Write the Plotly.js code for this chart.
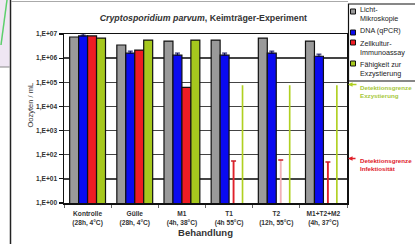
<!DOCTYPE html>
<html><head><meta charset="utf-8">
<script src="https://cdn.plot.ly/plotly-3.0.1.min.js"></script>
<style>html,body{margin:0;padding:0;background:#fff;}#chart{width:415px;height:244px;}</style>
</head><body><div id="chart"></div>
<script>
// ---- data ----
const categories = ['Kontrolle', 'Gülle', 'M1', 'T1', 'T2', 'M1+T2+M2'];
const conditions = ['(28h, 4°C)', '(28h, 4°C)', '(4h, 38°C)', '(4h 55°C)', '(12h, 55°C)', '(4h, 37°C)'];
const lichtMikroskopie = [7.5e6, 3.5e6, 5.1e6, 5.6e6, 6.8e6, 5.1e6];
const dnaQpcr = [8.3e6, 1.6e6, 1.33e6, 1.33e6, 1.6e6, 1.2e6];
const zellkulturImmunoassay = [8.3e6, 2.15e6, 6.2e4, null, null, null];
const exzystierung = [6.8e6, 5.6e6, 5.6e6, null, null, null];
const detektionsgrenzeInfektiositaet = [null, null, null, 55, 60, 50];
const detektionsgrenzeExzystierung = [null, null, null, 7.5e4, 7.5e4, 7.5e4];
const seriesNames = ['Licht-<br>Mikroskopie', 'DNA (qPCR)', 'Zellkultur-<br>Immunoassay', 'Fähigkeit zur<br>Exzystierung'];
const yTickValues = [1, 10, 100, 1000, 1e4, 1e5, 1e6, 1e7];
const yTickLabels = ['1,E+00', '1,E+01', '1,E+02', '1,E+03', '1,E+04', '1,E+05', '1,E+06', '1,E+07'];
const titleText = '<b><i>Cryptosporidium parvum</i>, Keimträger-Experiment</b>';
const yTitle = 'Oozyten / mL';
const xTitle = '<b>Behandlung</b>';
const limitLabels = ['<b>Detektionsgrenze<br>Exzystierung</b>', '<b>Detektionsgrenze<br>Infektiosität</b>'];

// ---- styles ----
const colors = ['#9a9a9a', '#0a0af0', '#ee1c24', '#a6c81e'];
const W = 415, H = 244, L = 64, R = 68, T = 34, B = 41;
const pw = W - L - R, ph = H - T - B;
const px = v => (v - L) / pw;
const py = v => (H - B - v) / ph;
const FONT = 'Liberation Sans, Arial, sans-serif';

const slot = 0.19;
const barBase = {type: 'bar', x: categories, showlegend: false};
const traces = [
  Object.assign({}, barBase, {name: seriesNames[0], y: lichtMikroskopie, width: slot, offset: -2 * slot,
    marker: {color: colors[0], line: {color: '#111', width: 1.2}}}),
  Object.assign({}, barBase, {name: seriesNames[1], y: dnaQpcr, width: slot, offset: -slot,
    marker: {color: colors[1], line: {color: '#111', width: 1.2}},
    error_y: {type: 'percent', symmetric: false, value: 22, valueminus: 0, color: '#000050', thickness: 1, width: 2.5}}),
  Object.assign({}, barBase, {name: seriesNames[2], y: zellkulturImmunoassay, width: slot, offset: 0,
    marker: {color: colors[2], line: {color: '#111', width: 1.2}}}),
  Object.assign({}, barBase, {name: seriesNames[3], y: exzystierung, width: slot, offset: slot,
    marker: {color: colors[3], line: {color: '#111', width: 1.2}}}),
  {type: 'bar', x: categories, y: detektionsgrenzeInfektiositaet, width: 0.04, offset: slot / 2 - 0.02,
    showlegend: false,
    marker: {color: ['#e0202a', '#e0202a', '#e0202a', '#e0202a', '#f2b0b8', '#e0202a'], line: {width: 0}},
    error_y: {type: 'percent', symmetric: false, value: 0.5, valueminus: 0, color: '#c81e28', thickness: 1.5, width: 2.5}},
  {type: 'bar', x: categories, y: detektionsgrenzeExzystierung, width: 0.035, offset: 1.5 * slot - 0.0175,
    showlegend: false, marker: {color: '#b0d020', line: {width: 0}}}
];

const shapes = [
  // left strip remnants
  {type: 'rect', xref: 'paper', yref: 'paper', x0: px(0), x1: px(9.5), y0: py(67), y1: py(0), fillcolor: '#efe6f3', line: {width: 0}, layer: 'below'},
  {type: 'line', xref: 'paper', yref: 'paper', x0: px(7), x1: px(1), y0: py(0), y1: py(45), line: {color: '#5ccf6c', width: 1.5}},
  {type: 'line', xref: 'paper', yref: 'paper', x0: px(0), x1: px(9.5), y0: py(67), y1: py(67), line: {color: '#888', width: 1}},
  {type: 'line', xref: 'paper', yref: 'paper', x0: px(10.5), x1: px(10.5), y0: py(0), y1: py(244), line: {color: '#222', width: 1.5}},
  {type: 'line', xref: 'paper', yref: 'paper', x0: px(11), x1: px(348), y0: py(1.5), y1: py(1.5), line: {color: '#aaa', width: 1}},
  // legend box
  {type: 'rect', xref: 'paper', yref: 'paper', x0: px(348.5), x1: px(420), y0: py(81), y1: py(4), fillcolor: '#fff', line: {color: '#111', width: 1.2}}
];
const swatchY = [11.5, 32.5, 42.5, 63.5];
swatchY.forEach((yy, i) => shapes.push({type: 'rect', xref: 'paper', yref: 'paper',
  x0: px(350.5), x1: px(355.5), y0: py(yy + 2.5), y1: py(yy - 2.5), fillcolor: colors[i], line: {color: '#111', width: 1}}));

const textY = [14.5, 31, 48, 69];
const annotations = seriesNames.map((s, i) => ({xref: 'paper', yref: 'paper', x: px(357.5), y: py(textY[i]),
  xanchor: 'left', yanchor: 'middle', align: 'left', showarrow: false, text: s,
  font: {family: FONT, size: 7.2, color: '#222'}}));
annotations.push(
  {xref: 'paper', yref: 'paper', x: px(23), y: py(105), text: yTitle, textangle: -90, showarrow: false,
    font: {family: FONT, size: 7.5, color: '#333'}},
  {xref: 'paper', yref: 'paper', x: px(348), y: py(84.5), ax: 10, ay: 0, text: '', showarrow: true,
    arrowhead: 2, arrowsize: 0.7, arrowwidth: 1.3, arrowcolor: '#b0d020'},
  {xref: 'paper', yref: 'paper', x: px(357.5), y: py(91), xanchor: 'left', yanchor: 'middle', align: 'left',
    showarrow: false, text: limitLabels[0], font: {family: FONT, size: 6.2, color: '#a6c83a'}},
  {xref: 'paper', yref: 'paper', x: px(348), y: py(158.5), ax: 9, ay: 0, text: '', showarrow: true,
    arrowhead: 2, arrowsize: 0.7, arrowwidth: 1.3, arrowcolor: '#e0202a'},
  {xref: 'paper', yref: 'paper', x: px(357.5), y: py(164), xanchor: 'left', yanchor: 'middle', align: 'left',
    showarrow: false, text: limitLabels[1], font: {family: FONT, size: 6.2, color: '#e0202a'}}
);

const layout = {
  width: W, height: H, margin: {l: L, r: R, t: T, b: B},
  paper_bgcolor: '#fff', plot_bgcolor: '#fff',
  barmode: 'overlay', showlegend: false,
  font: {family: FONT, color: '#222'},
  title: {text: titleText, x: 0.49, xanchor: 'center', y: 1 - 18 / H, yref: 'container', yanchor: 'middle',
    font: {family: FONT, size: 8.8, color: '#333'}},
  xaxis: {type: 'category', tickvals: categories,
    ticktext: categories.map((c, i) => '<b>' + c + '<br>' + conditions[i] + '</b>'),
    tickson: 'boundaries', ticks: 'outside', ticklen: 3, tickcolor: '#666', tickwidth: 1,
    ticklabelstandoff: 4,
    showline: true, linecolor: '#111', linewidth: 1.5, mirror: true,
    tickfont: {family: FONT, size: 6.6, color: '#333'},
    title: {text: xTitle, standoff: 2, font: {family: FONT, size: 9.5, color: '#333'}},
    range: [-0.5, 5.5], fixedrange: true},
  yaxis: {type: 'log', range: [0, 7], tickvals: yTickValues, ticktext: yTickLabels.map(t => '<b>' + t + '</b>'),
    ticks: 'outside', ticklen: 4, tickcolor: '#111', tickwidth: 1.2,
    showline: true, linecolor: '#111', linewidth: 1.5, mirror: true,
    showgrid: true, gridcolor: '#444', gridwidth: 1.3,
    tickfont: {family: FONT, size: 6.6, color: '#333'}, fixedrange: true},
  shapes: shapes, annotations: annotations
};
Plotly.newPlot('chart', traces, layout, {displayModeBar: false, staticPlot: true});
</script></body></html>
